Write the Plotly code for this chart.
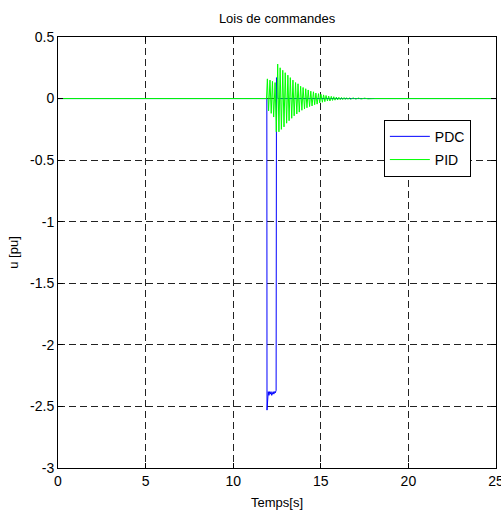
import plotly.graph_objects as go

# ---- data ----
pdc_t = [0.0, 11.92, 11.93, 11.97, 12.00, 12.04, 12.08, 12.12, 12.16,
         12.20, 12.24, 12.28, 12.32, 12.36, 12.40, 12.45, 12.47, 12.50, 12.55,
         13.0, 16.0, 17.0, 20.0, 25.0]
pdc_u = [0.0, 0.0, -2.53, -2.40, -2.38, -2.41, -2.38, -2.40, -2.38,
         -2.41, -2.39, -2.38, -2.40, -2.38, -2.39, -2.37, 0.17, 0.01, 0.0,
         0.0, 0.004, 0.0, 0.0, 0.0]

pid_t = [0.0, 11.90, 11.95, 12.02, 12.10, 12.17, 12.24, 12.31, 12.39, 12.46,
         12.54, 12.61, 12.68, 12.75, 12.83, 12.90, 12.97, 13.05, 13.12, 13.19,
         13.26, 13.34, 13.41, 13.48, 13.56, 13.63, 13.70, 13.77, 13.85, 13.92,
         13.99, 14.07, 14.14, 14.21, 14.28, 14.36, 14.43, 14.50, 14.58, 14.65,
         14.72, 14.79, 14.87, 14.94, 15.01, 15.09, 15.16, 15.23, 15.30, 15.38,
         15.45, 15.52, 15.60, 15.67, 15.74, 15.81, 15.89, 15.96, 16.03, 16.11,
         16.18, 16.25, 16.33, 16.40, 16.47, 16.55, 16.62, 16.70, 16.85, 17.00,
         17.15, 17.30, 17.50, 17.70, 18.00, 25.0]
pid_u = [0.0, 0.0, 0.16, -0.10, 0.15, -0.12, 0.14, -0.15, 0.13, -0.27,
         0.28, -0.27, 0.25, -0.25, 0.23, -0.23, 0.21, -0.20, 0.19, -0.18,
         0.17, -0.16, 0.15, -0.14, 0.13, -0.125, 0.12, -0.11, 0.10, -0.095,
         0.09, -0.085, 0.08, -0.075, 0.07, -0.065, 0.06, -0.06, 0.055, -0.05,
         0.045, -0.045, 0.04, -0.035, 0.035, -0.03, 0.03, -0.025, 0.025, -0.02,
         0.02, -0.02, 0.018, -0.015, 0.015, -0.013, 0.012, -0.011, 0.010, -0.009,
         0.009, -0.008, 0.008, -0.007, 0.007, -0.006, 0.006, -0.005, 0.005, -0.004,
         0.004, -0.003, 0.003, -0.002, 0.0, 0.0]

x_ticks = [0, 5, 10, 15, 20, 25]
x_labels = ["0", "5", "10", "15", "20", "25"]
y_ticks = [0.5, 0, -0.5, -1, -1.5, -2, -2.5, -3]
y_labels = ["0.5", "0", "-0.5", "-1", "-1.5", "-2", "-2.5", "-3"]

FONT = "Liberation Sans, Arial, sans-serif"

fig = go.Figure()
fig.add_trace(go.Scatter(x=pdc_t, y=pdc_u, mode="lines", name="PDC", legendgroup="a",
                         line=dict(color="#0000FF", width=1)))
fig.add_trace(go.Scatter(x=pid_t, y=pid_u, mode="lines", name="PID", legendgroup="b",
                         line=dict(color="#00FF00", width=1)))

axis_common = dict(showline=True, linecolor="black", linewidth=1, mirror="ticks",
                   ticks="inside", ticklen=5, tickcolor="black",
                   showgrid=True, gridcolor="#222222", gridwidth=1,
                   griddash="7px,4px", zeroline=False, automargin=False,
                   ticklabeloverflow="allow",
                   tickfont=dict(family=FONT, size=14, color="black"))

fig.update_xaxes(range=[0, 25], tickvals=x_ticks, ticktext=x_labels,
                 title=dict(text="Temps[s]", font=dict(family=FONT, size=13, color="black"),
                            standoff=10),
                 **axis_common)
fig.update_yaxes(range=[-3, 0.5], tickvals=y_ticks, ticktext=y_labels,
                 title=dict(text="u [pu]", font=dict(family=FONT, size=13, color="black"),
                            standoff=8),
                 **axis_common)

fig.update_layout(
    width=501, height=515,
    margin=dict(l=58, r=5, t=37, b=47),
    paper_bgcolor="white", plot_bgcolor="white",
    title=dict(text="Lois de commandes", x=0.553, xanchor="center",
               y=1 - 18 / 515, yanchor="middle", yref="container",
               font=dict(family=FONT, size=13, color="black")),
    legend=dict(x=0.744, y=0.808, xanchor="left", yanchor="top",
                bgcolor="white", bordercolor="black", borderwidth=1,
                font=dict(family=FONT, size=14, color="black"),
                traceorder="grouped", tracegroupgap=2, itemwidth=40),
    showlegend=True,
)

fig.write_html("out.html", config={"displayModeBar": False},
               post_script="document.body.style.margin='0px';")
